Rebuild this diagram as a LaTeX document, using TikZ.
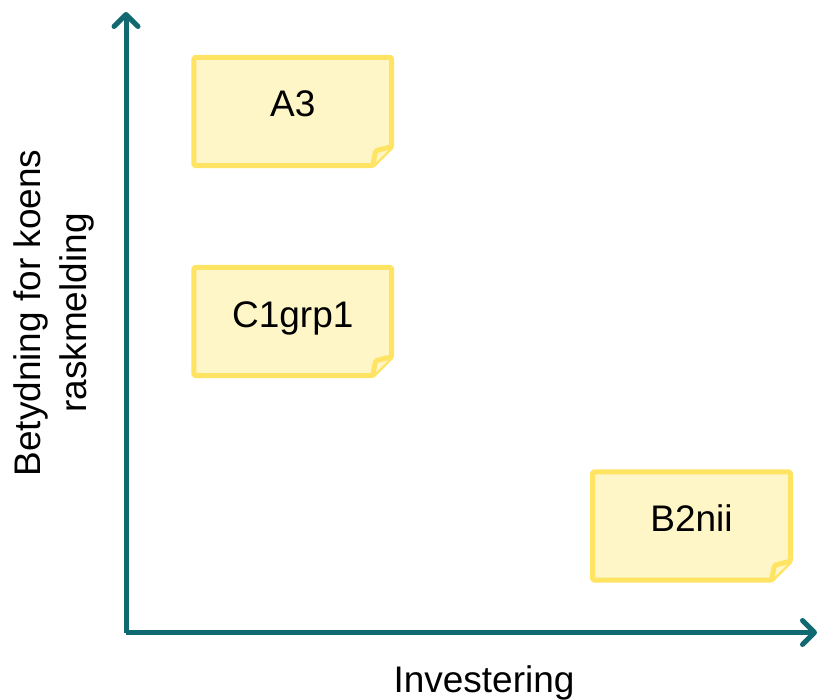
\documentclass[tikz,border=0pt]{standalone}
\usepackage{fontspec}
\setmainfont{Liberation Sans}
\usetikzlibrary{arrows.meta}
\definecolor{axisteal}{RGB}{16,104,112}
\definecolor{noteedge}{RGB}{255,228,100}
\definecolor{notefill}{RGB}{255,246,200}
\tikzset{
  axisline/.style={draw=axisteal, line width=5pt, -{Straight Barb[length=12pt, width=24pt, line width=5pt, round]}},
  notebox/.style={minimum width=197.5pt, minimum height=108pt, inner sep=0pt,
    text height=20pt, text depth=9pt, font=\fontsize{37}{44}\selectfont},
  noteborder/.style={draw=noteedge, fill=notefill, line width=5pt, line join=round, rounded corners=1.5pt},
  lbl/.style={font=\fontsize{37}{46}\selectfont, inner sep=0pt}
}
\newcommand{\stickynote}[1]{%
  \draw[noteborder] (#1.north west) -- (#1.north east) -- ([yshift=19pt]#1.south east)
    -- ([xshift=-19pt]#1.south east) -- (#1.south west) -- cycle;
  \draw[noteborder] ([xshift=-19pt]#1.south east) -- ([xshift=-16pt,yshift=15pt]#1.south east)
    -- ([yshift=19pt]#1.south east);
}
\begin{document}
\begin{tikzpicture}[x=1pt, y=-1pt]
\useasboundingbox (0,0) rectangle (818,700);
% notes (boxes first, drawn behind text)
\node[notebox] (a3) at (292.75,111.5) {};
\node[notebox] (c1) at (292.75,321.5) {};
\node[notebox] (b2) at (691.5,526) {};
\stickynote{a3}
\stickynote{c1}
\stickynote{b2}
\node[notebox] at (a3.center) {A3};
\node[notebox] at (c1.center) {C1grp1};
\node[notebox] at (b2.center) {B2nii};
% axes
\coordinate (o) at (126,632.5);
\coordinate (ytip) at (126,12);
\coordinate (xtip) at (817,632.5);
\draw[axisline] (o) -- (ytip);
\draw[axisline] (o) -- (xtip);
% labels
\node[lbl, anchor=base] (xl) at (484,692) {Investering};
\node[lbl, rotate=90, align=center] (yl) at (54,313) {Betydning for koens\\raskmelding};
\end{tikzpicture}
\end{document}
